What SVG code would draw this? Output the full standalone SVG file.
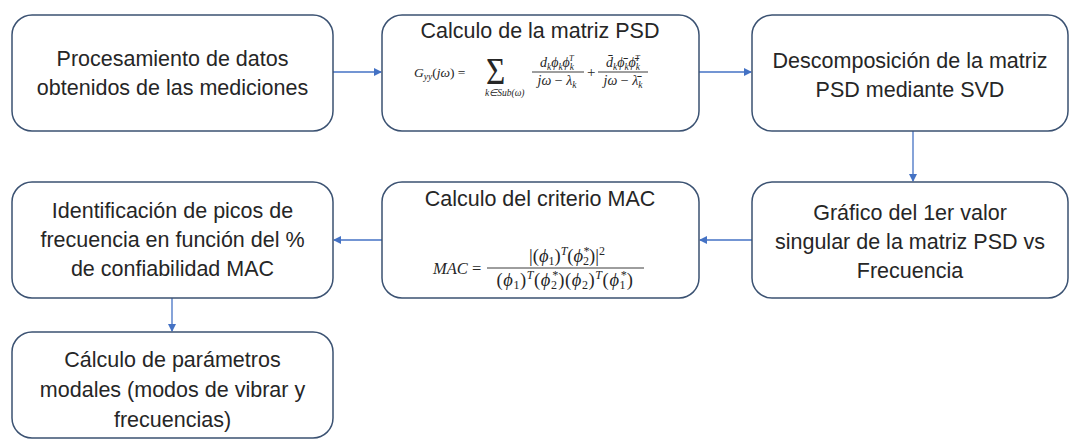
<svg xmlns="http://www.w3.org/2000/svg" width="1070" height="440" viewBox="0 0 1070 440">
<defs>
<marker id="ah" markerWidth="8" markerHeight="8" refX="7" refY="4" orient="auto" markerUnits="userSpaceOnUse">
<path d="M0,0 L8,4 L0,8 Z" fill="#4472C4"/>
</marker>
<style>
.box{fill:#fff;stroke:#3B5272;stroke-width:1.5}
.t{font-family:"Liberation Sans",Arial,sans-serif;font-size:21.5px;fill:#262626;text-anchor:middle}
.m{font-family:"Liberation Serif","Times New Roman",serif;font-style:italic;fill:#262626}
.mu{font-family:"Liberation Serif","Times New Roman",serif;font-style:normal;fill:#262626}
.c{stroke:#4472C4;stroke-width:1.3;fill:none;marker-end:url(#ah)}
.bar{stroke:#262626;stroke-width:0.9}
</style>
</defs>
<rect width="1070" height="440" fill="#fff"/>
<g id="connectors">
<line class="c" x1="333" y1="72" x2="381" y2="72"/>
<line class="c" x1="699" y1="72" x2="751" y2="72"/>
<line class="c" x1="913" y1="131" x2="913" y2="181"/>
<line class="c" x1="752" y1="240" x2="700" y2="240"/>
<line class="c" x1="382" y1="240" x2="334" y2="240"/>
<line class="c" x1="172" y1="298" x2="172" y2="331"/>
</g>
<g id="n1">
<rect class="box" x="12" y="15" width="321" height="116" rx="20"/>
<text class="t" x="172.5" y="66">Procesamiento de datos</text>
<text class="t" x="172.5" y="95">obtenidos de las mediciones</text>
</g>
<g id="n2">
<rect class="box" x="382" y="15" width="317" height="116" rx="20"/>
<text class="t" x="540" y="38">Calculo de la matriz PSD</text>
<text class="m" x="414" y="77" font-size="13.5">G<tspan font-size="9.5" dy="2.5">yy</tspan><tspan dy="-2.5" class="mu">(</tspan>jω<tspan class="mu">)  =</tspan></text>
<text class="mu" transform="translate(486,84) scale(0.85,1)" font-size="39">Σ</text>
<text class="m" x="485" y="96" font-size="9.5">k∈Sub(ω)</text>
<text class="m" x="557" y="67" font-size="14" text-anchor="middle">d<tspan font-size="9.5" dy="2.5">k</tspan><tspan dy="-2.5">ϕ</tspan><tspan font-size="9.5" dy="2.5">k</tspan><tspan dy="-2.5">ϕ</tspan><tspan font-size="9.5" dy="2.5">k</tspan><tspan font-size="8.5" dx="-5" dy="-9">T</tspan></text>
<line class="bar" x1="532" y1="72" x2="584" y2="72"/>
<text class="m" x="557" y="85" font-size="14" text-anchor="middle">jω <tspan class="mu">−</tspan> λ<tspan font-size="9.5" dy="2.5">k</tspan></text>
<text class="mu" x="587" y="77" font-size="15">+</text>
<text class="m" x="623" y="67" font-size="14" text-anchor="middle">d̄<tspan font-size="9.5" dy="2.5">k</tspan><tspan dy="-2.5">ϕ̄</tspan><tspan font-size="9.5" dy="2.5">k</tspan><tspan dy="-2.5">ϕ̄</tspan><tspan font-size="9.5" dy="2.5">k</tspan><tspan font-size="8.5" dx="-5" dy="-9">T</tspan></text>
<line class="bar" x1="598" y1="72" x2="648" y2="72"/>
<text class="m" x="623" y="85" font-size="14" text-anchor="middle">jω <tspan class="mu">−</tspan> λ̄<tspan font-size="9.5" dy="2.5">k</tspan></text>
</g>
<g id="n3">
<rect class="box" x="752" y="15" width="316" height="116" rx="20"/>
<text class="t" x="910" y="68">Descomposición de la matriz</text>
<text class="t" x="910" y="97">PSD mediante SVD</text>
</g>
<g id="n4">
<rect class="box" x="752" y="182" width="316" height="116" rx="20"/>
<text class="t" x="910" y="220">Gráfico del 1er valor</text>
<text class="t" x="910" y="249">singular de la matriz PSD vs</text>
<text class="t" x="910" y="278">Frecuencia</text>
</g>
<g id="n5">
<rect class="box" x="382" y="182" width="317" height="116" rx="20"/>
<text class="t" x="540" y="206">Calculo del criterio MAC</text>
<text class="m" x="433" y="274" font-size="16.5">MAC <tspan class="mu">=</tspan></text>
<line class="bar" x1="487" y1="268" x2="644" y2="268"/>
<text class="m" x="567" y="262" font-size="18.5" text-anchor="middle"><tspan class="mu">|(</tspan>ϕ<tspan font-size="12" dy="3" class="mu">1</tspan><tspan dy="-3" class="mu">)</tspan><tspan font-size="12" dy="-7">T</tspan><tspan dy="7" class="mu">(</tspan>ϕ<tspan font-size="12" dy="3" class="mu">2</tspan><tspan font-size="12" dx="-6" dy="-10">*</tspan><tspan dy="7" class="mu">)|</tspan><tspan font-size="12" dy="-7" class="mu">2</tspan></text>
<text class="m" x="565" y="286" font-size="18.5" text-anchor="middle" letter-spacing="0.6"><tspan class="mu">(</tspan>ϕ<tspan font-size="12" dy="3" class="mu">1</tspan><tspan dy="-3" class="mu">)</tspan><tspan font-size="12" dy="-7">T</tspan><tspan dy="7" class="mu">(</tspan>ϕ<tspan font-size="12" dy="3" class="mu">2</tspan><tspan font-size="12" dx="-6" dy="-10">*</tspan><tspan dy="7" class="mu">)(</tspan>ϕ<tspan font-size="12" dy="3" class="mu">2</tspan><tspan dy="-3" class="mu">)</tspan><tspan font-size="12" dy="-7">T</tspan><tspan dy="7" class="mu">(</tspan>ϕ<tspan font-size="12" dy="3" class="mu">1</tspan><tspan font-size="12" dx="-6" dy="-10">*</tspan><tspan dy="7" class="mu">)</tspan></text>
</g>
<g id="n6">
<rect class="box" x="12" y="182" width="321" height="116" rx="20"/>
<text class="t" x="172.5" y="218">Identificación de picos de</text>
<text class="t" x="172.5" y="247">frecuencia en función del %</text>
<text class="t" x="172.5" y="276">de confiabilidad MAC</text>
</g>
<g id="n7">
<rect class="box" x="12" y="332" width="321" height="106" rx="20"/>
<text class="t" x="172.5" y="367">Cálculo de parámetros</text>
<text class="t" x="172.5" y="397">modales (modos de vibrar y</text>
<text class="t" x="172.5" y="427">frecuencias)</text>
</g>
</svg>
